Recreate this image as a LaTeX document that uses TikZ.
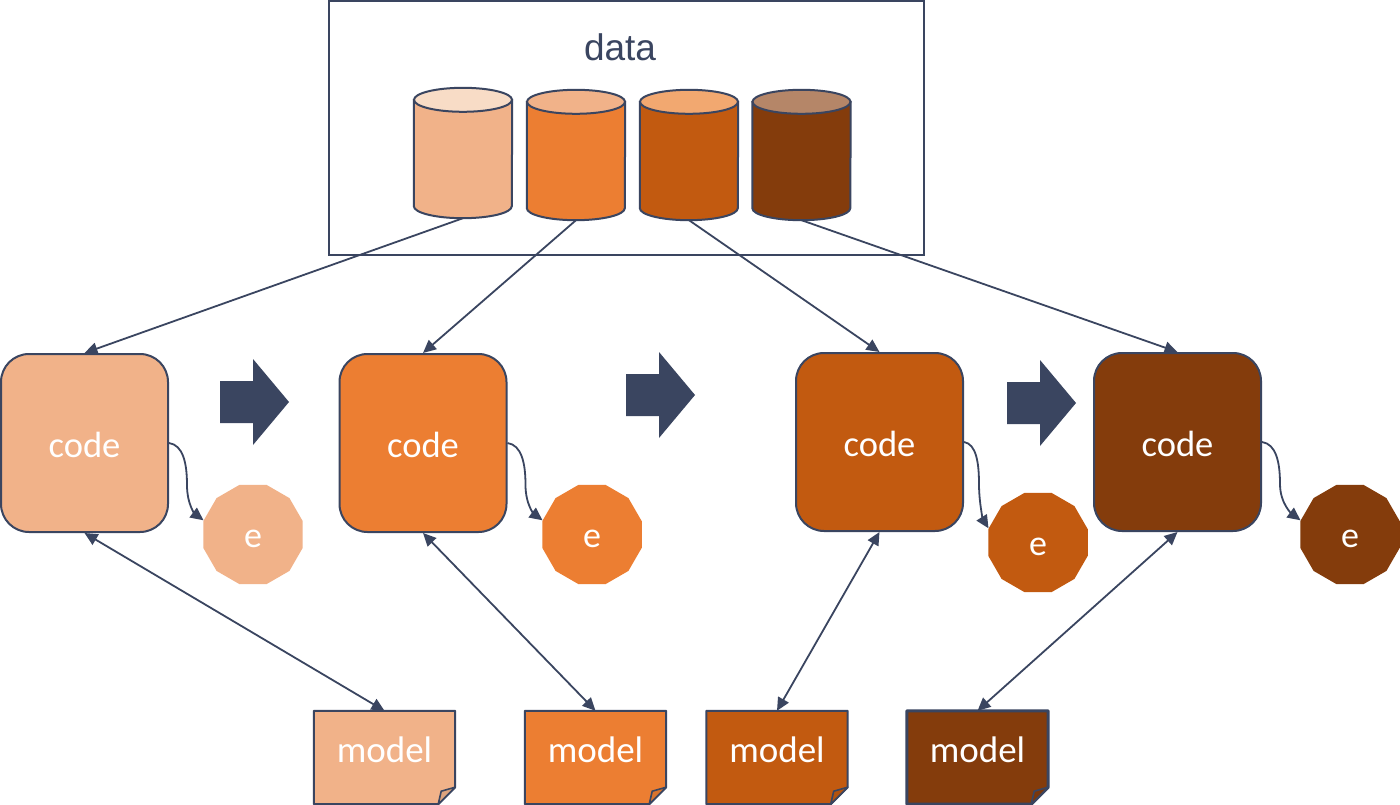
\documentclass[tikz,border=0pt]{standalone}
\usepackage{fontspec}
\setmainfont{Carlito}
\newfontfamily\datafont{Liberation Sans}
\usetikzlibrary{arrows.meta,shapes.geometric,calc}
\definecolor{ink}{HTML}{3A4560}
\definecolor{cA}{HTML}{F1B289}
\definecolor{cB}{HTML}{EC7E32}
\definecolor{cC}{HTML}{C25A10}
\definecolor{cD}{HTML}{843C0C}
\definecolor{tA}{HTML}{F8DCC6}
\definecolor{tB}{HTML}{F1B289}
\definecolor{tC}{HTML}{F2A870}
\definecolor{tD}{HTML}{B58668}
\tikzset{
  x=1pt,y=-1pt,
  conn/.style={draw=ink,line width=1.8pt,-{Triangle[length=13pt,width=12pt]}},
  biconn/.style={draw=ink,line width=1.8pt,{Triangle[length=13pt,width=12pt]}-{Triangle[length=13pt,width=12pt]}},
  codebox/.style={draw=ink,line width=2pt,rounded corners=28pt,minimum width=167pt,minimum height=178pt,inner sep=0pt,text=white,font=\fontsize{36.5}{40}\selectfont},
  errnode/.style={regular polygon,regular polygon sides=12,minimum size=103pt,inner sep=0pt,text=white,font=\fontsize{36}{40}\selectfont},
  modelnode/.style={minimum width=141pt,minimum height=93pt,inner sep=0pt},
  modeltext/.style={inner sep=0pt,text=white,font=\fontsize{37}{40}\selectfont},
  modelline/.style={draw=ink,line width=2pt,line join=round},
  cylnode/.style={minimum width=98pt,minimum height=130pt,inner sep=0pt},
}
\newcommand{\cyl}[5]{% name, cx, cy, body, top
  \node[cylnode] (#1) at (#2,#3) {};
  \path[fill=#4,draw=ink,line width=2pt]
    ($(#1.north west)+(0,12)$) -- ($(#1.south west)+(0,-12)$)
    arc (180:0:49 and 12) -- ($(#1.north east)+(0,12)$) -- cycle;
  \path[fill=#5,draw=ink,line width=2pt] ($(#1.north)+(0,12)$) ellipse (49 and 12);
}
\newcommand{\blockarr}[3]{% name, x, y
  \coordinate (#1) at (#2,#3);
  \fill[ink] ($(#1)+(-34.5,-21)$) -- ($(#1)+(-1.5,-21)$) -- ($(#1)+(-1.5,-43)$) -- ($(#1)+(34.5,0)$)
    -- ($(#1)+(-1.5,43)$) -- ($(#1)+(-1.5,21)$) -- ($(#1)+(-34.5,21)$) -- cycle;
}
\newcommand{\modelpaper}[3]{% name, colour, line width
  \path[modelline,line width=#3,fill=#2] (#1.north west) -- (#1.north east) -- ($(#1.south east)+(0,-17)$)
    -- ($(#1.south east)+(-17,0)$) -- (#1.south west) -- cycle;
  \path[modelline,line width=1.6pt,fill=#2!92!black] ($(#1.south east)+(0,-17)$) -- ($(#1.south east)+(-14,-13)$) -- ($(#1.south east)+(-17,0)$) -- cycle;
  \node[modeltext] at ($(#1)+(0,-7.5)$) {model};
}
\newcommand{\codetext}{\raisebox{-14.5pt}[0pt][0pt]{code}}
\newcommand{\errtext}{\raisebox{-12.5pt}[0pt][0pt]{e}}
\begin{document}
\begin{tikzpicture}
\useasboundingbox (0,0) rectangle (1400,805);
\fill[white] (0,0) rectangle (1400,805);
% data frame
\node[draw=ink,line width=1.8pt,minimum width=595pt,minimum height=254pt,inner sep=0pt] (frame) at (626.5,128) {};
\node[text=ink,font=\datafont\fontsize{37}{40}\selectfont,inner sep=0pt] (datalabel) at (620,47) {data};
\cyl{d1}{463}{153}{cA}{tA}
\cyl{d2}{576}{155}{cB}{tB}
\cyl{d3}{689}{155}{cC}{tC}
\cyl{d4}{801.5}{155}{cD}{tD}
% code boxes
\node[codebox,fill=cA] (c1) at (84.5,443) {\codetext};
\node[codebox,fill=cB] (c2) at (423,443) {\codetext};
\node[codebox,fill=cC] (c3) at (879.5,442) {\codetext};
\node[codebox,fill=cD] (c4) at (1177.5,442) {\codetext};
% block arrows
\blockarr{b1}{254.5}{402}
\blockarr{b2}{660.5}{395}
\blockarr{b3}{1041.5}{403}
% errors
\node[errnode,fill=cA] (e1) at (253,534.5) {\errtext};
\node[errnode,fill=cB] (e2) at (592,534.5) {\errtext};
\node[errnode,fill=cC] (e3) at (1038,542.5) {\errtext};
\node[errnode,fill=cD] (e4) at (1350,534.5) {\errtext};
% models
\node[modelnode] (m1) at (384.5,757.5) {};
\node[modelnode] (m2) at (595.5,757.5) {};
\node[modelnode] (m3) at (777,757.5) {};
\node[modelnode] (m4) at (977.5,757.5) {};
\modelpaper{m1}{cA}{2pt}
\modelpaper{m2}{cB}{2pt}
\modelpaper{m3}{cC}{2pt}
\modelpaper{m4}{cD}{3pt}
% connectors
\draw[conn] (d1.south) -- (c1.north);
\draw[conn] (d2.south) -- (c2.north);
\draw[conn] (d3.south) -- (c3.north);
\draw[conn] (d4.south) -- (c4.north);
\draw[biconn] (c1.south) -- (m1.north);
\draw[biconn] (c2.south) -- (m2.north);
\draw[biconn] (c3.south) -- (m3.north);
\draw[biconn] (c4.south) -- (m4.north);
\draw[conn] (c1.east) .. controls +(14,2) and +(0,-22) .. ($(c1.east)+(18,42)$) .. controls +(0,20) and +(-8,-6) .. (e1.164);
\draw[conn] (c2.east) .. controls +(14,2) and +(0,-22) .. ($(c2.east)+(18,42)$) .. controls +(0,20) and +(-8,-6) .. (e2.164);
\draw[conn] (c3.east) .. controls +(12,2) and +(0,-22) .. ($(c3.east)+(15,42)$) .. controls +(0,20) and +(-5,-8) .. (e3.164);
\draw[conn] (c4.east) .. controls +(14,2) and +(0,-22) .. ($(c4.east)+(18,42)$) .. controls +(0,20) and +(-8,-6) .. (e4.164);
\end{tikzpicture}
\end{document}
